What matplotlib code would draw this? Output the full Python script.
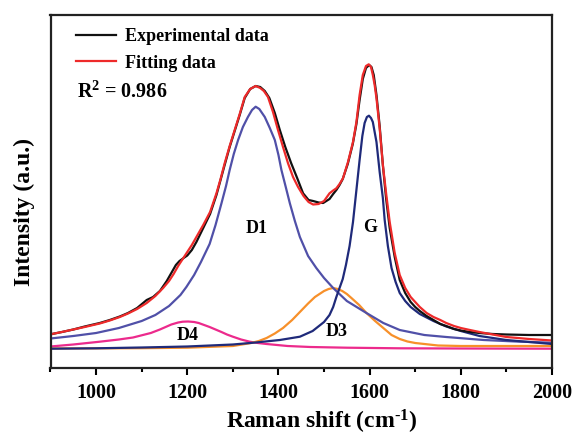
import numpy as np
import matplotlib
matplotlib.use("Agg")
import matplotlib.pyplot as plt

plt.rcParams['font.family'] = ['Liberation Serif', 'DejaVu Serif']
plt.rcParams['font.weight'] = 'bold'
plt.rcParams['mathtext.fontset'] = 'custom'
plt.rcParams['mathtext.rm'] = 'Liberation Serif:bold'
plt.rcParams['mathtext.it'] = 'Liberation Serif:bold'
plt.rcParams['mathtext.bf'] = 'Liberation Serif:bold'
plt.rcParams['mathtext.default'] = 'rm'

# experimental spectrum
exp_shift = [900, 925, 950, 975, 1008, 1030, 1052, 1070, 1090, 1111, 1125, 1140, 1155,
             1165, 1175, 1183, 1192, 1200, 1210, 1220, 1235, 1250, 1264, 1282, 1293, 1304,
             1315, 1326, 1338, 1350, 1360, 1370, 1380, 1392, 1403, 1415, 1428, 1441, 1454,
             1466, 1476, 1488, 1498, 1505, 1512, 1520, 1527, 1534, 1541, 1552, 1563, 1571,
             1578, 1585, 1592, 1599, 1604, 1609, 1615, 1622, 1629, 1636, 1644, 1655, 1666,
             1678, 1690, 1700, 1710, 1725, 1740, 1755, 1768, 1785, 1800, 1820, 1841, 1870,
             1900, 1950, 2000]
exp_int = [33.7, 36, 38.5, 41.5, 45, 48, 51.5, 55, 60, 68, 71, 77, 87,
           95, 103, 107, 110, 112.5, 118, 126, 140, 154, 173, 203, 221, 237,
           253, 270, 279, 282, 281, 277, 270, 255, 238, 221, 204.7, 190, 174.7,
           168, 167, 165.5, 165, 167, 169, 174, 178, 183, 189, 204, 224, 244,
           268, 289, 300, 303, 301, 293, 273, 242, 203, 170, 140, 111, 88,
           75, 66, 61, 57, 52, 48, 44, 42, 39, 37.5, 36, 35, 34,
           33.5, 33, 33]

# cumulative fit
fit_shift = [900, 925, 950, 975, 1008, 1030, 1052, 1070, 1090, 1111, 1130, 1147, 1160,
             1170, 1180, 1190, 1200, 1210, 1220, 1235, 1250, 1264, 1273, 1282, 1293, 1304,
             1315, 1326, 1338, 1350, 1360, 1368, 1377, 1388, 1399, 1410, 1421, 1432, 1443,
             1455, 1466, 1476, 1488, 1500, 1512, 1520, 1527, 1534, 1541.5, 1552.5, 1563.5,
             1571, 1578, 1585, 1592, 1598, 1603, 1607, 1611, 1615, 1622, 1629, 1636.6,
             1644, 1655, 1666, 1678, 1690, 1700, 1710, 1725, 1740, 1755, 1768, 1785, 1800,
             1820, 1841, 1870, 1900, 1950, 2000]
fit_int = [33.7, 36, 38.5, 41, 44.5, 47.5, 51, 54.5, 59, 65, 72, 80, 87,
           94, 102, 109, 116, 123, 131, 143, 156, 174.7, 189, 204.7, 222, 238,
           254, 271, 279, 282, 280, 277, 271, 256, 238, 221, 204.7, 191, 181,
           172, 166, 163.5, 164, 167, 174.7, 177.5, 179.7, 184, 189.7, 206, 226,
           246, 273, 293, 302, 303.7, 301, 293, 283, 269.7, 239.7, 203, 173,
           146, 115, 93, 80, 71, 66, 61, 55, 51, 48, 45, 42, 40,
           38, 36, 33.5, 31, 29, 27.5]

# fitted components
d1_shift = [900, 950, 1000, 1050, 1100, 1130, 1160, 1185, 1198, 1215, 1230, 1249, 1262,
            1275, 1285, 1293, 1302, 1311.5, 1322, 1333, 1342, 1350, 1358, 1370, 1381, 1392,
            1400, 1406.5, 1416, 1425, 1436, 1447, 1465, 1483, 1500, 1520, 1550, 1593, 1630,
            1666, 1720, 1768, 1850, 1920, 2000]
d1_int = [29.5, 32, 35, 40, 47, 53, 62, 73, 81, 93, 106, 124, 143,
          164.7, 182, 198, 214, 228, 241, 251, 258, 261.3, 259, 251, 240, 228,
          213, 198, 181, 164.7, 147, 131, 112, 100, 90, 80, 67, 55, 45,
          38, 33, 31, 28, 26.5, 25.3]

g_shift = [900, 1000, 1100, 1200, 1300, 1350, 1403, 1447, 1475, 1500, 1512, 1520, 1527,
           1534, 1541, 1548, 1556, 1563.5, 1571, 1578, 1584, 1589, 1594, 1598.5, 1603, 1607,
           1615, 1622, 1629, 1633, 1640, 1648, 1657, 1666, 1678, 1690, 1710, 1740, 1768,
           1800, 1841, 1900, 1950, 2000]
g_int = [19.3, 19.7, 20.5, 21.5, 23.5, 25.5, 28, 31.3, 37, 46, 53, 61, 71,
         80, 89, 103, 122, 146, 178, 208, 232, 245, 251, 252.3, 250, 246,
         226, 196, 170, 148, 122, 100, 86, 75, 67, 61, 54, 47, 41.5,
         37, 32, 28, 26, 24]

d4_shift = [900, 950, 1008, 1050, 1081, 1120, 1140, 1155, 1165, 1180, 1190, 1202, 1215,
            1225, 1237, 1249, 1262, 1275, 1287, 1300, 1318, 1337, 1355, 1374, 1420, 1470,
            1550, 1666, 1800, 2000]
d4_int = [21.5, 23.5, 26.3, 28.5, 30.5, 35, 38.5, 41.5, 43.5, 45.5, 46.3, 46.5, 46,
          45, 43, 41, 38.5, 36, 33.5, 31.3, 28.5, 26.3, 25, 24, 22, 21,
          20.3, 19.7, 19.5, 19.3]

d3_shift = [900, 1100, 1200, 1300, 1320, 1340, 1357, 1374, 1392, 1410, 1430, 1447, 1465,
            1480, 1500, 1510, 1520, 1530, 1540, 1550, 1560, 1577, 1593, 1612, 1630, 1648,
            1666, 1683, 1700, 1750, 1800, 2000]
d3_int = [19.5, 19.8, 20.3, 22, 23.5, 25, 27, 30, 34.5, 40, 48, 56, 64.5,
          71, 77, 79, 80, 79, 77, 74, 70, 63, 55, 47, 40, 33,
          29, 26.5, 25, 22.5, 22, 22]

fig = plt.figure(figsize=(5.74, 4.37), dpi=100)
ax = fig.add_axes([50.5 / 574, 1 - 368 / 437, 501.5 / 574, 353 / 437])

lw = 1.6
ax.plot(d4_shift, d4_int, color='#ec2a8c', lw=lw)
ax.plot(d3_shift, d3_int, color='#f7902a', lw=lw)
ax.plot(d1_shift, d1_int, color='#5050a8', lw=lw)
ax.plot(g_shift, g_int, color='#1f2a7a', lw=lw)
ax.plot(exp_shift, exp_int, color='#111111', lw=lw, label='Experimental data')
ax.plot(fit_shift, fit_int, color='#ee2a2a', lw=lw, label='Fitting data')

ax.set_xlim(900, 2000)
ax.set_ylim(0, 353)
ax.set_xticks([1000, 1200, 1400, 1600, 1800, 2000])
ax.set_xticks([900, 1100, 1300, 1500, 1700, 1900], minor=True)
ax.set_yticks([])
ax.tick_params(axis='x', which='major', direction='out', length=5, width=1.5,
               labelsize=14.5, pad=6)
ax.tick_params(axis='x', which='minor', direction='out', length=3, width=1.5)
for s in ax.spines.values():
    s.set_linewidth(1.6)
    s.set_color('#222222')

ax.set_xlabel(r'Raman shift (cm$^{\text{-}1}$)', fontsize=17, fontweight='bold')
ax.xaxis.set_label_coords(0.541, -0.114)
ax.set_ylabel('Intensity (a.u.)', fontsize=17, fontweight='bold')
ax.yaxis.set_label_coords(-0.03, 0.443)

leg = ax.legend(loc='upper left', bbox_to_anchor=(0.037, 0.984), frameon=False,
                fontsize=13, handlelength=2.2, handletextpad=0.5, labelspacing=0.54,
                borderaxespad=0, borderpad=0.4)

ax.text(958, 276, 'R$^{2}$ = 0.986', fontsize=14.5, fontweight='bold', va='center', ha='left')
ax.text(1352, 139.7, 'D1', fontsize=13, fontweight='bold', ha='center', va='center')
ax.text(1600, 140, 'G', fontsize=13, fontweight='bold', ha='center', va='center')
ax.text(1200, 33, 'D4', fontsize=13, fontweight='bold', ha='center', va='center')
ax.text(1527, 36.3, 'D3', fontsize=13, fontweight='bold', ha='center', va='center')

fig.savefig('out.png', dpi=100)
